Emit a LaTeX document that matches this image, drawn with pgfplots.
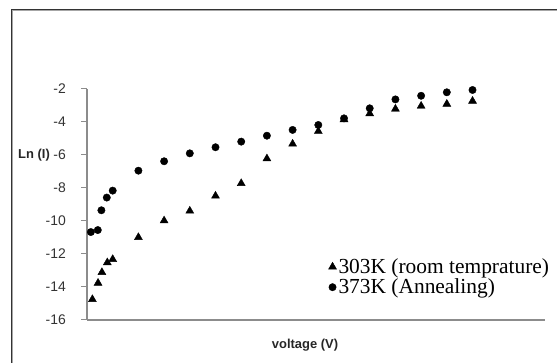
\documentclass[border=0pt]{standalone}
\usepackage{pgfplots}
\pgfplotsset{compat=1.18}
\usepackage{fontspec}
\setmainfont{Liberation Sans}
\newfontfamily\tnr{Liberation Serif}
\begin{document}
\begin{tikzpicture}
\path[use as bounding box] (0,0) rectangle (557bp,363bp);
\draw[black!80, line width=1bp] (11bp,0) -- (11bp,353.5bp) -- (557bp,353.5bp);
\draw[black!35, line width=0.8bp] (12.2bp,0) -- (12.2bp,352.3bp) -- (557bp,352.3bp);
\begin{axis}[
  at={(87bp,43bp)}, anchor=south west,
  scale only axis, width=458bp, height=231bp,
  xmin=0, xmax=17.82, ymin=-16, ymax=-2,
  axis lines*=left,
  axis line style={black!45, line width=1.2bp, -},
  xtick=\empty,
  ytick={-16,-14,...,-2},
  tick align=outside,
  major tick length=6bp,
  tick style={black!45, line width=1bp},
  /pgf/number format/assume math mode=true,
  yticklabel style={font=\fontsize{14}{16}\selectfont, text=black!80, inner sep=0pt, xshift=-15bp},
  legend style={draw=none, fill=none, at={(0.527,0.275)}, anchor=north west,
    font=\tnr\fontsize{21.5}{24}\selectfont, inner sep=0pt, row sep=0bp,
    legend cell align=left},
  legend image code/.code={\draw[#1] plot coordinates {(0bp,0bp)};},
  clip=false,
]
\addplot[only marks, mark=triangle*, mark size=4.6bp, black] coordinates {
(0.21,-14.75)(0.43,-13.76)(0.58,-13.11)(0.79,-12.52)(1,-12.32)(2,-10.99)(3,-9.98)(4,-9.39)(5,-8.48)(6,-7.72)(7,-6.22)(8,-5.33)(9,-4.56)(10,-3.85)(11,-3.49)(12,-3.21)(13,-3.03)(14,-2.91)(15,-2.73)};
\addlegendentry{303K (room temprature)}
\addplot[only marks, mark=*, mark size=3.7bp, black] coordinates {
(0.15,-10.67)(0.42,-10.55)(0.56,-9.35)(0.77,-8.58)(1,-8.16)(2,-6.95)(3,-6.38)(4,-5.90)(5,-5.53)(6,-5.19)(7,-4.83)(8,-4.48)(9,-4.18)(10,-3.78)(11,-3.17)(12,-2.63)(13,-2.41)(14,-2.20)(15,-2.06)};
\addlegendentry{373K (Annealing)}
\end{axis}
\node[font=\bfseries\fontsize{13}{15}\selectfont, text=black!85] at (34bp,208bp) {Ln (I)};
\node[font=\bfseries\fontsize{13}{15}\selectfont, text=black!85] at (305bp,18bp) {voltage (V)};
\end{tikzpicture}
\end{document}
